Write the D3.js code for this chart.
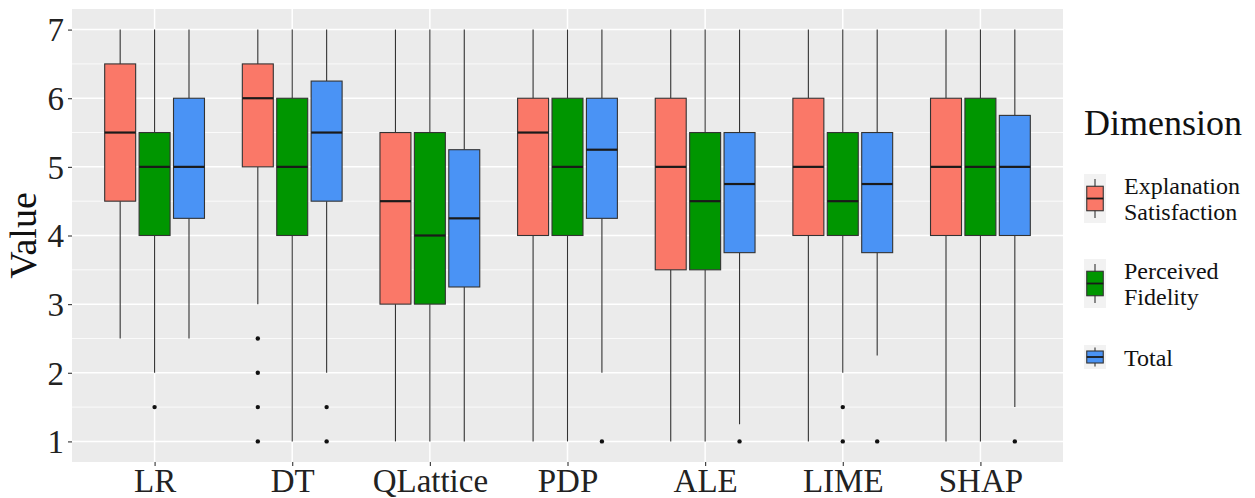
<!DOCTYPE html>
<html>
<head>
<meta charset="utf-8">
<script src="https://cdn.jsdelivr.net/npm/d3@7"></script>
<style>
  html, body { margin: 0; padding: 0; background: #fff; }
  svg { display: block; font-family: "Liberation Serif", "DejaVu Serif", serif; }
</style>
</head>
<body>
<svg id="chart" width="1255" height="498"></svg>
<script>
// ---- data ----
const categories = ["LR", "DT", "QLattice", "PDP", "ALE", "LIME", "SHAP"];
const dimensions = ["Explanation\nSatisfaction", "Perceived\nFidelity", "Total"];
const colors = ["#FA7868", "#009600", "#4A93F5"];
const yTicks = [1, 2, 3, 4, 5, 6, 7];

// Explanation Satisfaction
const esLower  = [2.5, 3, 1, 1, 1, 1, 1];
const esQ1     = [4.5, 5, 3, 4, 3.5, 4, 4];
const esMedian = [5.5, 6, 4.5, 5.5, 5, 5, 5];
const esQ3     = [6.5, 6.5, 5.5, 6, 6, 6, 6];
const esUpper  = [7, 7, 7, 7, 7, 7, 7];
const esOutliers = [["DT", 2.5], ["DT", 2], ["DT", 1.5], ["DT", 1]];

// Perceived Fidelity
const pfLower  = [2, 1, 1, 1, 1, 2, 1];
const pfQ1     = [4, 4, 3, 4, 3.5, 4, 4];
const pfMedian = [5, 5, 4, 5, 4.5, 4.5, 5];
const pfQ3     = [5.5, 6, 5.5, 6, 5.5, 5.5, 6];
const pfUpper  = [7, 7, 7, 7, 7, 7, 7];
const pfOutliers = [["LR", 1.5], ["LIME", 1.5], ["LIME", 1]];

// Total
const totLower  = [2.5, 2, 1, 2, 1.25, 2.25, 1.5];
const totQ1     = [4.25, 4.5, 3.25, 4.25, 3.75, 3.75, 4];
const totMedian = [5, 5.5, 4.25, 5.25, 4.75, 4.75, 5];
const totQ3     = [6, 6.25, 5.25, 6, 5.5, 5.5, 5.75];
const totUpper  = [7, 7, 7, 7, 7, 7, 7];
const totOutliers = [["DT", 1.5], ["DT", 1], ["PDP", 1], ["ALE", 1], ["LIME", 1], ["SHAP", 1]];

const series = [
  { lower: esLower, q1: esQ1, median: esMedian, q3: esQ3, upper: esUpper, outliers: esOutliers },
  { lower: pfLower, q1: pfQ1, median: pfMedian, q3: pfQ3, upper: pfUpper, outliers: pfOutliers },
  { lower: totLower, q1: totQ1, median: totMedian, q3: totQ3, upper: totUpper, outliers: totOutliers }
];

// ---- layout ----
const svg = d3.select("#chart");
const panel = { left: 72, right: 1063, top: 9, bottom: 462 };
const textColor = "#222";
const lineColor = "#333";

const x = d3.scalePoint().domain(categories).range([panel.left, panel.right]).padding(0.6);
const y = d3.scaleLinear().domain([0.7, 7.3]).range([panel.bottom, panel.top]);
const step = x.step();
const dodge = d3.scaleBand().domain(d3.range(dimensions.length))
  .range([-0.375 * step, 0.375 * step]);
const boxW = dodge.bandwidth() * 0.9;

// panel background
svg.append("rect").attr("x", panel.left).attr("y", panel.top)
  .attr("width", panel.right - panel.left).attr("height", panel.bottom - panel.top)
  .attr("fill", "#EBEBEB");

// minor grid
const minorTicks = d3.range(1.5, 7, 1);
svg.append("g").selectAll("line").data(minorTicks).join("line")
  .attr("x1", panel.left).attr("x2", panel.right)
  .attr("y1", d => y(d)).attr("y2", d => y(d))
  .attr("stroke", "#fff").attr("stroke-width", 0.8);
// major grid
svg.append("g").selectAll("line").data(yTicks).join("line")
  .attr("x1", panel.left).attr("x2", panel.right)
  .attr("y1", d => y(d)).attr("y2", d => y(d))
  .attr("stroke", "#fff").attr("stroke-width", 1.5);
svg.append("g").selectAll("line").data(categories).join("line")
  .attr("x1", d => x(d)).attr("x2", d => x(d))
  .attr("y1", panel.top).attr("y2", panel.bottom)
  .attr("stroke", "#fff").attr("stroke-width", 1.5);

// boxes
series.forEach((s, si) => {
  const g = svg.append("g");
  categories.forEach((c, ci) => {
    const cx = x(c) + dodge(si) + dodge.bandwidth() / 2;
    g.append("line").attr("x1", cx).attr("x2", cx)
      .attr("y1", y(s.upper[ci])).attr("y2", y(s.q3[ci]))
      .attr("stroke", lineColor).attr("stroke-width", 1.1);
    g.append("line").attr("x1", cx).attr("x2", cx)
      .attr("y1", y(s.q1[ci])).attr("y2", y(s.lower[ci]))
      .attr("stroke", lineColor).attr("stroke-width", 1.1);
    g.append("rect").attr("x", cx - boxW / 2).attr("width", boxW)
      .attr("y", y(s.q3[ci])).attr("height", y(s.q1[ci]) - y(s.q3[ci]))
      .attr("fill", colors[si]).attr("stroke", lineColor).attr("stroke-width", 1.1);
    g.append("line").attr("x1", cx - boxW / 2).attr("x2", cx + boxW / 2)
      .attr("y1", y(s.median[ci])).attr("y2", y(s.median[ci]))
      .attr("stroke", "#1a1a1a").attr("stroke-width", 2.2);
  });
  g.selectAll("circle").data(s.outliers).join("circle")
    .attr("cx", d => x(d[0]) + dodge(si) + dodge.bandwidth() / 2)
    .attr("cy", d => y(d[1]))
    .attr("r", 2.2).attr("fill", "#111");
});

// axes
const yAxis = svg.append("g").attr("transform", `translate(${panel.left},0)`)
  .call(d3.axisLeft(y).tickValues(yTicks).tickSize(4).tickPadding(4).tickFormat(d3.format("d")));
yAxis.select(".domain").remove();
yAxis.selectAll(".tick line").attr("stroke", lineColor).attr("stroke-width", 1.1);
yAxis.selectAll(".tick text").attr("fill", textColor)
  .style("font-family", "Liberation Serif").style("font-size", "33px").attr("dy", "0.34em");

const xAxis = svg.append("g").attr("transform", `translate(0,${panel.bottom})`)
  .call(d3.axisBottom(x).tickSize(4).tickPadding(3));
xAxis.select(".domain").remove();
xAxis.selectAll(".tick line").attr("stroke", lineColor).attr("stroke-width", 1.1);
xAxis.selectAll(".tick text").attr("fill", textColor)
  .style("font-family", "Liberation Serif").style("font-size", "33px")
  .attr("y", 0).attr("dy", 0).attr("transform", "translate(0,30)");

// y title
svg.append("text").attr("transform", `translate(36,${(panel.top + panel.bottom) / 2}) rotate(-90)`)
  .attr("text-anchor", "middle").attr("fill", "#111")
  .style("font-size", "38px").text("Value");

// legend
const leg = svg.append("g");
leg.append("text").attr("x", 1084).attr("y", 135).attr("fill", "#111")
  .style("font-size", "36px").text("Dimension");
const keyX = 1084, keyW = 22, lineH = 25.5;
const keyTops = [174, 259, 345];
dimensions.forEach((d, i) => {
  const lines = d.split("\n");
  const kh = lines.length > 1 ? 49 : 24;
  const top = keyTops[i];
  const kg = leg.append("g");
  kg.append("rect").attr("x", keyX).attr("y", top).attr("width", keyW).attr("height", kh).attr("fill", "#F2F2F2");
  const cx = keyX + keyW / 2;
  kg.append("line").attr("x1", cx).attr("x2", cx).attr("y1", top + kh * 0.1).attr("y2", top + kh * 0.9)
    .attr("stroke", lineColor).attr("stroke-width", 1.1);
  kg.append("rect").attr("x", keyX + keyW * 0.125).attr("width", keyW * 0.75)
    .attr("y", top + kh * 0.25).attr("height", kh * 0.5)
    .attr("fill", colors[i]).attr("stroke", lineColor).attr("stroke-width", 1.1);
  kg.append("line").attr("x1", keyX + keyW * 0.125).attr("x2", keyX + keyW * 0.875)
    .attr("y1", top + kh / 2).attr("y2", top + kh / 2).attr("stroke", "#1a1a1a").attr("stroke-width", 1.8);
  const cy = top + kh / 2;
  const firstBase = cy - (lines.length - 1) * lineH / 2 + 8.5;
  const t = kg.append("text").attr("x", 1124).attr("fill", "#111").style("font-size", "24px");
  lines.forEach((ln, li) => {
    t.append("tspan").attr("x", 1124).attr("y", firstBase + li * lineH).text(ln);
  });
});
</script>
</body>
</html>
